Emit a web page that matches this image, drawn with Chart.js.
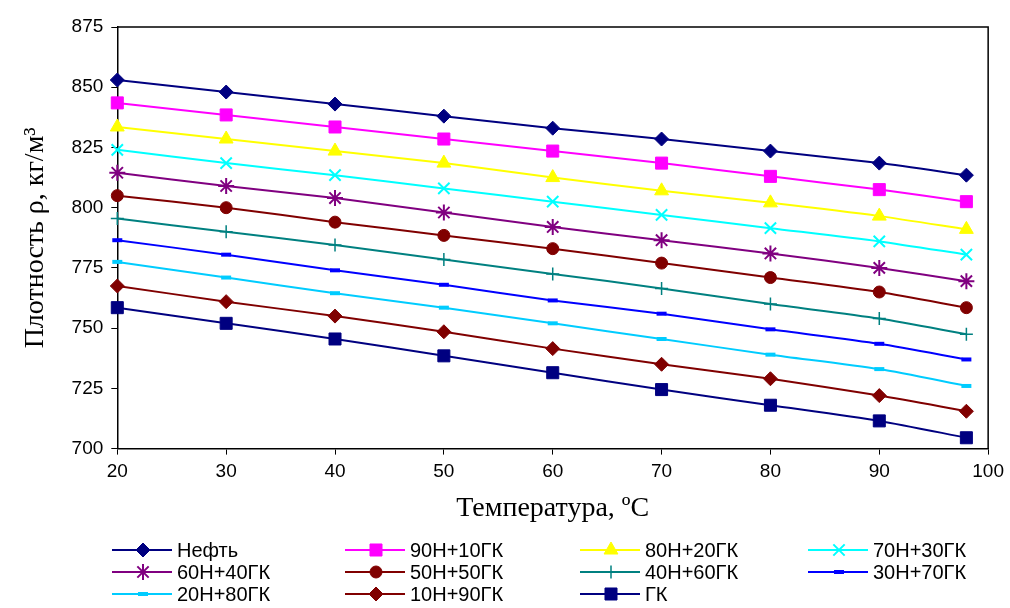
<!DOCTYPE html>
<html>
<head>
<meta charset="utf-8">
<script src="https://cdn.jsdelivr.net/npm/chart.js@4/dist/chart.umd.min.js"></script>
<style>
  html, body { margin: 0; padding: 0; background: #fff; }
  #wrap { width: 1010px; height: 608px; }
</style>
</head>
<body>
<div id="wrap"><canvas id="densityChart" width="1010" height="608"></canvas></div>
<script>
// temperatures, °C
const temps = [20, 30, 40, 50, 60, 70, 80, 90, 98];

// density, kg/m3
const neft    = [853, 848, 843, 838, 833, 828.5, 823.5, 818.5, 813.5];
const n90gk10 = [843.5, 838.5, 833.5, 828.5, 823.5, 818.5, 813, 807.5, 802.5];
const n80gk20 = [833.5, 828.5, 823.5, 818.5, 812.5, 807, 802, 796.5, 791];
const n70gk30 = [824, 818.5, 813.5, 808, 802.5, 797, 791.5, 786, 780.5];
const n60gk40 = [814.5, 809, 804, 798, 792, 786.5, 781, 775, 769.5];
const n50gk50 = [805, 800, 794, 788.5, 783, 777, 771, 765, 758.5];
const n40gk60 = [795.5, 790, 784.5, 778.5, 772.5, 766.5, 760, 754, 747.5];
const n30gk70 = [786.5, 780.5, 774, 768, 761.5, 756, 749.5, 743.5, 737];
const n20gk80 = [777.5, 771, 764.5, 758.5, 752, 745.5, 739, 733, 726];
const n10gk90 = [767.5, 761, 755, 748.5, 741.5, 735, 729, 722, 715.5];
const gk      = [758.5, 752, 745.5, 738.5, 731.5, 724.5, 718, 711.5, 704.5];

const seriesNames = ['Нефть', '90Н+10ГК', '80Н+20ГК', '70Н+30ГК', '60Н+40ГК', '50Н+50ГК',
  '40Н+60ГК', '30Н+70ГК', '20Н+80ГК', '10Н+90ГК', 'ГК'];
const seriesValues = [neft, n90gk10, n80gk20, n70gk30, n60gk40, n50gk50,
  n40gk60, n30gk70, n20gk80, n10gk90, gk];

// marker look per series
const seriesStyles = [
  { color: '#000080', point: 'rectRot',  radius: 7,   bw: 1 },
  { color: '#ff00ff', point: 'rect',     radius: 8.5, bw: 1 },
  { color: '#ffff00', point: 'triangle', radius: 8,   bw: 1 },
  { color: '#00ffff', point: 'crossRot', radius: 8,   bw: 2 },
  { color: '#800080', point: 'star',     radius: 8,   bw: 2 },
  { color: '#800000', point: 'circle',   radius: 6,   bw: 1 },
  { color: '#008080', point: 'cross',    radius: 6.5, bw: 1.5 },
  { color: '#0000ff', point: 'line',     radius: 5,   bw: 4 },
  { color: '#00ccff', point: 'line',     radius: 5,   bw: 4 },
  { color: '#800000', point: 'rectRot',  radius: 7,   bw: 1 },
  { color: '#000080', point: 'rect',     radius: 8.5, bw: 1 }
];

const datasets = seriesNames.map((name, i) => ({
  label: name,
  data: temps.map((t, j) => ({ x: t, y: seriesValues[i][j] })),
  borderColor: seriesStyles[i].color,
  backgroundColor: seriesStyles[i].color,
  borderWidth: 2,
  tension: 0.25,
  pointStyle: seriesStyles[i].point,
  pointRadius: seriesStyles[i].radius,
  pointBorderWidth: seriesStyles[i].bw,
  pointBackgroundColor: seriesStyles[i].color,
  pointBorderColor: seriesStyles[i].color,
  clip: false
}));

// frame round the plot area (top and right sides)
const framePlugin = {
  id: 'frame',
  afterDraw(chart) {
    const { ctx, chartArea: a } = chart;
    ctx.save();
    ctx.strokeStyle = '#000';
    ctx.lineWidth = 1.5;
    ctx.beginPath();
    ctx.moveTo(a.left, a.top);
    ctx.lineTo(a.right, a.top);
    ctx.lineTo(a.right, a.bottom);
    ctx.stroke();
    ctx.restore();
  }
};

// excel-like legend: 4 columns, 3 rows
const legendPlugin = {
  id: 'gridLegend',
  afterDraw(chart) {
    const { ctx } = chart;
    const colX = [112, 345, 580, 808];
    const rowY = [550, 572, 594];
    ctx.save();
    ctx.font = '20px Arial, "Liberation Sans", sans-serif';
    ctx.textBaseline = 'middle';
    chart.data.datasets.forEach((ds, i) => {
      const x = colX[i % 4];
      const y = rowY[Math.floor(i / 4)];
      ctx.strokeStyle = ds.borderColor;
      ctx.lineWidth = 2;
      ctx.beginPath();
      ctx.moveTo(x, y);
      ctx.lineTo(x + 60, y);
      ctx.stroke();
      ctx.fillStyle = ds.pointBackgroundColor;
      ctx.strokeStyle = ds.pointBorderColor;
      ctx.lineWidth = ds.pointBorderWidth;
      Chart.helpers.drawPoint(ctx, {
        pointStyle: ds.pointStyle,
        radius: ds.pointRadius,
        borderWidth: ds.pointBorderWidth,
        rotation: 0
      }, x + 31, y);
      ctx.fillStyle = '#000';
      ctx.fillText(ds.label, x + 65, y + 1);
    });
    ctx.restore();
  }
};

const tickFont = { family: 'Arial, "Liberation Sans", sans-serif', size: 19 };
const titleFont = { family: '"Times New Roman", "Liberation Serif", serif', size: 28 };

new Chart(document.getElementById('densityChart'), {
  type: 'line',
  data: { datasets },
  options: {
    responsive: false,
    animation: false,
    layout: { padding: { left: 19, right: 14, top: 27, bottom: 83 } },
    plugins: {
      legend: { display: false },
      tooltip: { enabled: false }
    },
    scales: {
      x: {
        type: 'linear',
        min: 20,
        max: 100,
        ticks: { stepSize: 10, color: '#000', font: tickFont, padding: 6 },
        grid: { drawOnChartArea: false, color: '#000', tickLength: 6 },
        border: { color: '#000', width: 1.5 },
        title: { display: true, text: 'Температура, ºС', color: '#000', font: titleFont, padding: { top: 2, bottom: 0 } }
      },
      y: {
        min: 700,
        max: 875,
        ticks: { stepSize: 25, color: '#000', font: tickFont, padding: 8 },
        grid: { drawOnChartArea: false, color: '#000', tickLength: 6 },
        border: { color: '#000', width: 1.5 },
        title: { display: true, text: 'Плотность ρ, кг/м³', color: '#000', font: titleFont, padding: { top: 0, bottom: 11 } }
      }
    }
  },
  plugins: [framePlugin, legendPlugin]
});
</script>
</body>
</html>
